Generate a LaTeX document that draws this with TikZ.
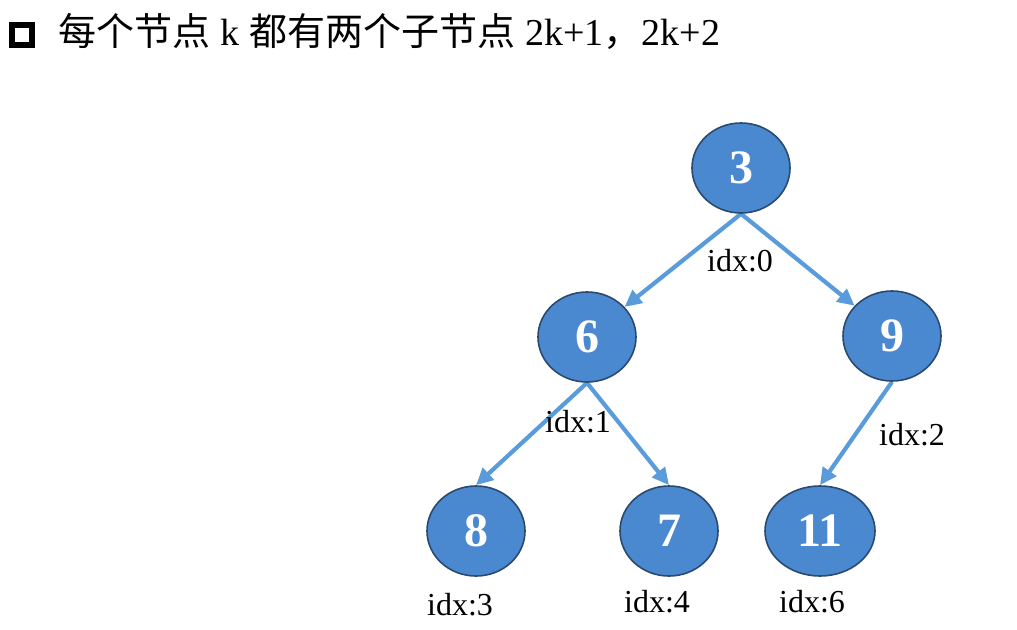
\documentclass[tikz,border=0pt]{standalone}
\usepackage{fontspec}
\setmainfont{Liberation Serif}
\newfontfamily\cjk{Noto Sans CJK SC}
\usetikzlibrary{shapes.geometric,arrows.meta,backgrounds}
\definecolor{nodefill}{HTML}{4A88D0}
\definecolor{edgecol}{HTML}{5A9BDB}
\definecolor{nodeborder}{HTML}{2B4A6F}
\tikzset{
  tnode/.style={ellipse, draw=nodeborder, line width=1.6pt, fill=nodefill, text=white,
    minimum width=98pt, minimum height=90pt, inner sep=0pt,
    font=\fontsize{48}{48}\selectfont\bfseries},
  edge/.style={draw=edgecol, line width=4.2pt, -{Triangle[length=17pt,width=16pt]}},
  idx/.style={anchor=base, inner sep=0pt, font=\fontsize{32}{32}\selectfont}
}
\begin{document}
\begin{tikzpicture}[x=1pt,y=-1pt]
\useasboundingbox (0,0) rectangle (1017,629);
% header
\node (box) [draw, line width=6pt, minimum size=20pt, inner sep=0pt] at (22,34.5) {};
\node (title) [anchor=base west, inner sep=0pt, font=\fontsize{38}{40}\selectfont] at (58,45)
  {{\cjk\fontsize{38}{38}\selectfont 每个节点}\hspace{10pt}k\hspace{10pt}{\cjk\fontsize{38}{38}\selectfont 都有两个子节点}\hspace{10pt}2k+1{\cjk\fontsize{38}{38}\selectfont ，}2k+2};
% nodes
\node (n3) [tnode] at (741,168) {3};
\node (n6) [tnode] at (587,337) {6};
\node (n9) [tnode] at (892,336) {9};
\node (n8) [tnode] at (476,531) {8};
\node (n7) [tnode] at (669,531) {7};
\node (n11) [tnode, minimum width=110pt] at (820,531) {11};
% edges
\begin{pgfonlayer}{background}
\draw[edge] (n3.south) -- (n6);
\draw[edge] (n3.south) -- (n9);
\draw[edge] (n6.south) -- (n8.north);
\draw[edge] (n6.south) -- (n7.north);
\draw[edge] (n9.south) -- (n11.north);
\end{pgfonlayer}
% labels
\node (l0) [idx] at (740,271) {idx:0};
\node (l1) [idx] at (578,432) {idx:1};
\node (l2) [idx] at (912,445) {idx:2};
\node (l3) [idx] at (460,615) {idx:3};
\node (l4) [idx] at (657,612) {idx:4};
\node (l6) [idx] at (812,612) {idx:6};
\end{tikzpicture}
\end{document}
